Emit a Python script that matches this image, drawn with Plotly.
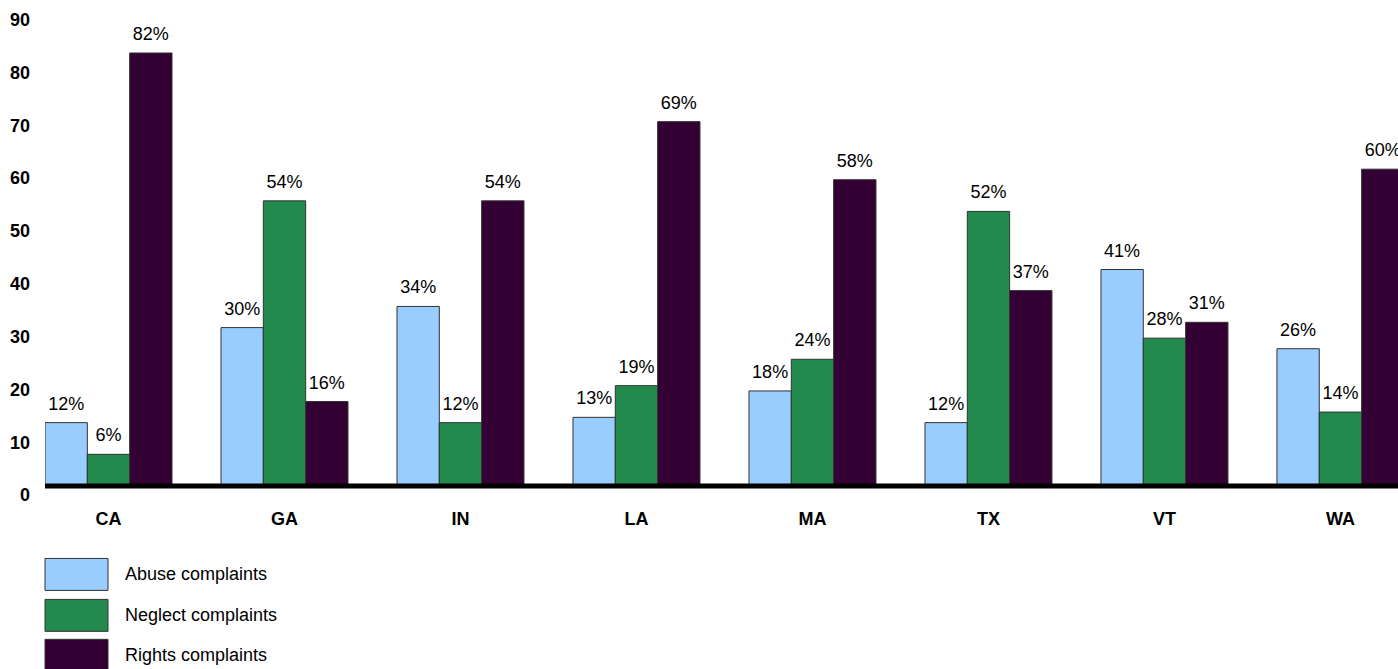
import numpy as np
import plotly.graph_objects as go

states = ["CA", "GA", "IN", "LA", "MA", "TX", "VT", "WA"]
abuse = [12, 30, 34, 13, 18, 12, 41, 26]
neglect = [6, 54, 12, 19, 24, 52, 28, 14]
rights = [82, 16, 54, 69, 58, 37, 31, 60]
series_names = ["Abuse complaints", "Neglect complaints", "Rights complaints"]
series_colors = ["#99CCFF", "#218A4C", "#330033"]
y_ticks = [0, 10, 20, 30, 40, 50, 60, 70, 80, 90]

FONT = "Liberation Sans, Arial, sans-serif"
W, H = 1398, 669
ML, MB = 45, 182.5
plot_w = W - ML
plot_h = H - MB

group_w = 0.7216
bar_w = group_w / 3
idx = np.arange(len(states))

fig = go.Figure()
all_series = [abuse, neglect, rights]
for k, (vals, name, col) in enumerate(zip(all_series, series_names, series_colors)):
    xs = idx + (k - 1) * bar_w
    fig.add_trace(go.Bar(
        x=xs, y=vals, width=bar_w, name=name,
        marker=dict(color=col, line=dict(color="#333333", width=1)),
        showlegend=False, hoverinfo="skip",
    ))
    fig.add_trace(go.Scatter(
        x=xs, y=vals, mode="markers+text",
        text=[f"{v}%" for v in vals], textposition="top center",
        textfont=dict(family=FONT, size=18, color="#000000"),
        marker=dict(size=12, color="rgba(0,0,0,0)"),
        showlegend=False, hoverinfo="skip", cliponaxis=False,
    ))

# thick baseline (paper-referenced so it is not clipped by the plot area)
fig.add_shape(type="line", xref="paper", x0=0, x1=1, yref="paper", y0=0, y1=0,
              line=dict(color="black", width=5), layer="above")

# custom legend
def px_x(px):
    return (px - ML) / plot_w

def px_y(py):
    return (plot_h - py) / plot_h

box_tops = [559, 600, 640]
for top, name, col in zip(box_tops, series_names, series_colors):
    fig.add_shape(type="rect", xref="paper", yref="paper",
                  x0=px_x(45), x1=px_x(108), y0=px_y(top), y1=px_y(top + 32),
                  fillcolor=col, line=dict(color="#333333", width=1))
    fig.add_annotation(xref="paper", yref="paper", x=px_x(123), y=px_y(top + 16),
                       text=name, showarrow=False, xanchor="left", yanchor="middle",
                       font=dict(family=FONT, size=18, color="#000000"))

x_left = -0.3608
x_right = 7.327
fig.update_layout(
    width=W, height=H,
    margin=dict(l=ML, r=0, t=0, b=MB, pad=0),
    paper_bgcolor="white", plot_bgcolor="white",
    font=dict(family=FONT, size=18, color="#000000"),
    xaxis=dict(range=[x_left, x_right], tickvals=idx, ticktext=states,
               showgrid=False, zeroline=False, showline=False,
               tickfont=dict(family=FONT, size=18, color="#000000", weight="bold"),
               ticks="", ticklabelstandoff=20),
    yaxis=dict(range=[0, plot_h / 5.286], tickvals=y_ticks,
               showgrid=False, zeroline=False, showline=False,
               tickfont=dict(family=FONT, size=18, color="#000000", weight="bold"),
               ticks="", ticklabelstandoff=14, ticklabelshift=9,
               ticklabeloverflow="allow"),
)

fig.write_html("out.html",
               config={"displayModeBar": False},
               post_script="document.body.style.margin='0';document.body.style.overflow='hidden';")
